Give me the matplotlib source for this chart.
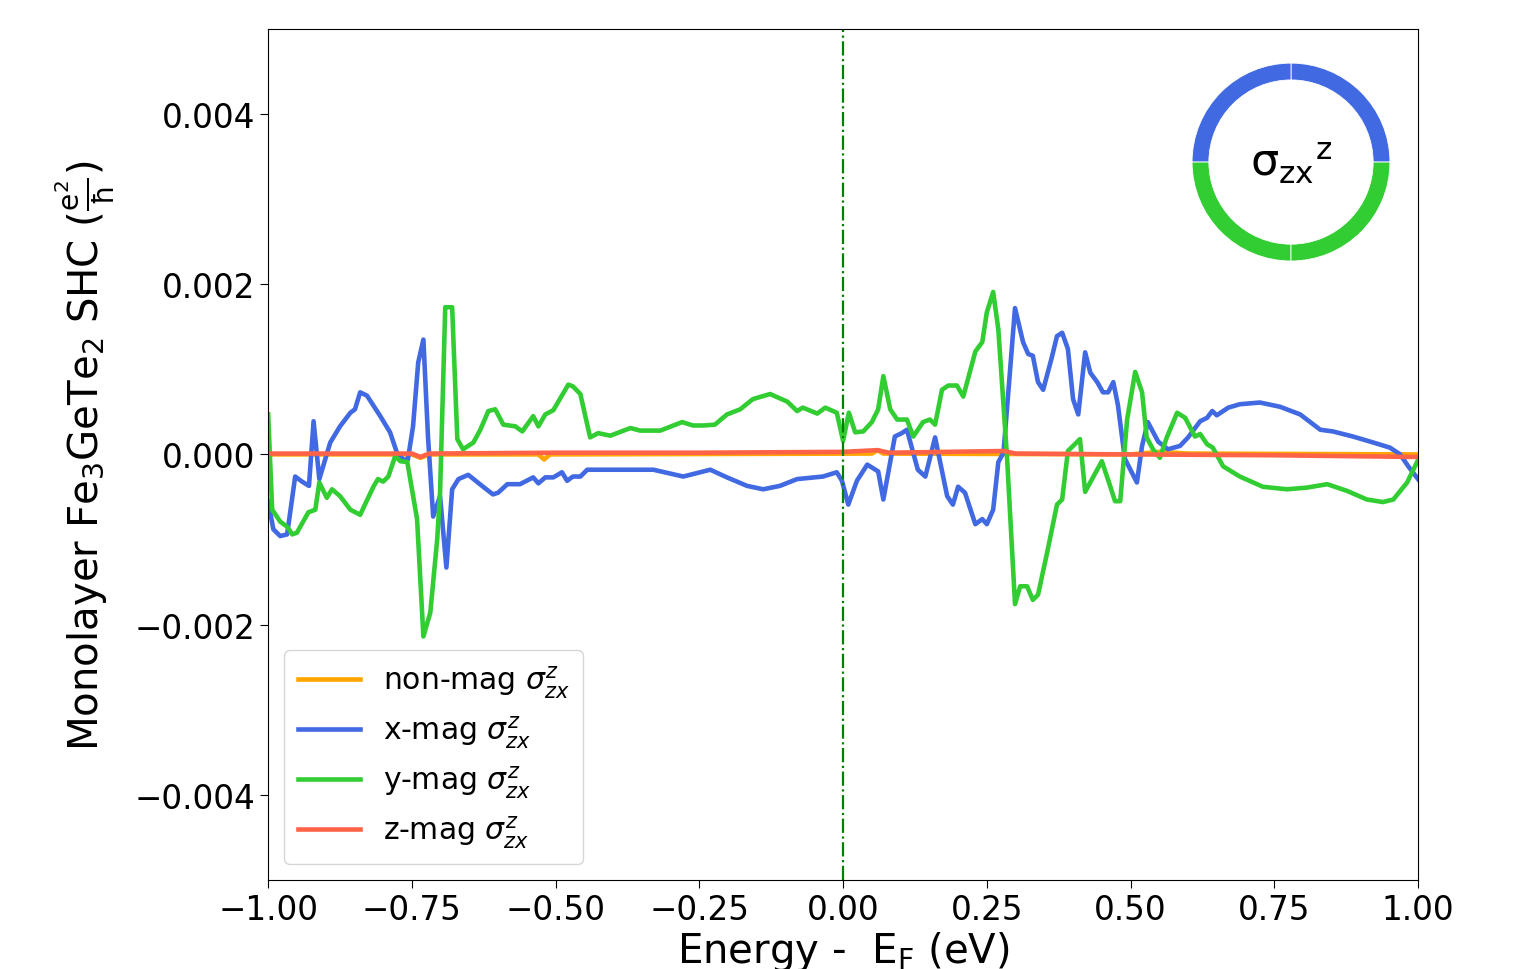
import matplotlib.pyplot as plt
import numpy as np

# ------------------------ #
# DATA  (energy in eV, SHC in units of 1e-4 e^2/hbar)
# ------------------------ #

non_mag = np.array([
    (-1.0, 0.0), (-0.75, 0.0), (-0.735, -0.4), (-0.72, 0.0), (-0.53, 0.0),
    (-0.52, -0.6), (-0.51, 0.0), (0.05, 0.1), (0.06, 0.5), (0.07, 0.1),
    (0.5, 0.0), (0.55, 0.3), (0.6, 0.1), (1.0, 0.0),
])

x_mag = np.array([
    (-1.0, -5.5), (-0.991, -8.8), (-0.979, -9.6), (-0.967, -9.4), (-0.953, -2.6),
    (-0.941, -3.2), (-0.929, -3.7), (-0.921, 3.9), (-0.911, -2.9), (-0.892, 1.4),
    (-0.875, 3.3), (-0.857, 4.9), (-0.849, 5.3), (-0.840, 7.3), (-0.828, 6.9),
    (-0.805, 4.5), (-0.788, 2.6), (-0.776, 0.2), (-0.765, -0.6), (-0.757, -0.6),
    (-0.748, 3.3), (-0.739, 10.8), (-0.730, 13.5), (-0.722, 2.1), (-0.713, -7.3),
    (-0.701, -4.9), (-0.690, -13.3), (-0.680, -4.1), (-0.669, -2.9), (-0.652, -2.4),
    (-0.628, -3.7), (-0.609, -4.7), (-0.600, -4.5), (-0.584, -3.5), (-0.562, -3.5),
    (-0.539, -2.7), (-0.530, -3.4), (-0.518, -2.7), (-0.504, -2.7), (-0.489, -2.1),
    (-0.480, -3.1), (-0.470, -2.6), (-0.457, -2.6), (-0.445, -1.8), (-0.411, -1.8),
    (-0.330, -1.8), (-0.278, -2.6), (-0.231, -1.8), (-0.202, -2.7), (-0.167, -3.7),
    (-0.139, -4.1), (-0.110, -3.7), (-0.080, -2.9), (-0.035, -2.6), (-0.011, -2.1),
    (-0.002, -3.1), (0.009, -5.9), (0.024, -3.1), (0.042, -1.2), (0.061, -2.0),
    (0.070, -5.3), (0.090, 2.1), (0.102, 2.5), (0.111, 2.9), (0.130, -1.8),
    (0.143, -2.6), (0.160, 2.0), (0.181, -4.9), (0.191, -5.9), (0.200, -3.8),
    (0.212, -4.5), (0.230, -8.2), (0.242, -7.6), (0.250, -8.2), (0.261, -6.5),
    (0.270, -0.9), (0.279, 0.2), (0.299, 17.2), (0.313, 13.2), (0.322, 11.8),
    (0.330, 11.6), (0.339, 8.5), (0.348, 7.6), (0.363, 11.4), (0.372, 13.9),
    (0.381, 14.3), (0.391, 12.4), (0.400, 6.5), (0.409, 4.7), (0.421, 12.0),
    (0.430, 9.6), (0.442, 8.5), (0.452, 7.3), (0.461, 7.3), (0.470, 8.5),
    (0.478, 5.8), (0.490, -0.5), (0.511, -3.3), (0.520, 1.0), (0.530, 3.8),
    (0.548, 1.5), (0.565, 0.6), (0.586, 1.0), (0.600, 2.0), (0.621, 3.9),
    (0.633, 4.3), (0.642, 5.1), (0.650, 4.6), (0.670, 5.5), (0.690, 5.9),
    (0.725, 6.1), (0.760, 5.6), (0.795, 4.7), (0.830, 2.9), (0.852, 2.7),
    (0.887, 2.1), (0.922, 1.4), (0.951, 0.8), (0.969, 0.0), (0.983, -1.4),
    (1.0, -2.9),
])

y_mag = np.array([
    (-1.0, 4.7), (-0.993, -6.5), (-0.979, -7.9), (-0.967, -8.5), (-0.958, -9.4),
    (-0.950, -9.2), (-0.930, -6.8), (-0.918, -6.5), (-0.911, -3.3), (-0.898, -5.1),
    (-0.889, -4.1), (-0.875, -4.9), (-0.857, -6.5), (-0.840, -7.1), (-0.817, -3.8),
    (-0.809, -2.9), (-0.800, -3.2), (-0.791, -2.6), (-0.779, -0.2), (-0.770, -0.8),
    (-0.758, -0.9), (-0.741, -7.6), (-0.730, -21.4), (-0.718, -18.6), (-0.706, -10.0),
    (-0.701, -4.5), (-0.692, 17.3), (-0.680, 17.3), (-0.671, 1.8), (-0.661, 0.6),
    (-0.643, 1.4), (-0.631, 2.9), (-0.617, 5.1), (-0.605, 5.3), (-0.591, 3.5),
    (-0.570, 3.3), (-0.558, 2.7), (-0.539, 4.5), (-0.530, 3.3), (-0.518, 4.7),
    (-0.504, 5.2), (-0.478, 8.2), (-0.470, 8.0), (-0.457, 7.1), (-0.440, 2.0),
    (-0.426, 2.5), (-0.405, 2.2), (-0.370, 3.1), (-0.353, 2.8), (-0.318, 2.8),
    (-0.280, 3.8), (-0.261, 3.4), (-0.243, 3.4), (-0.223, 3.5), (-0.202, 4.7),
    (-0.179, 5.3), (-0.157, 6.5), (-0.127, 7.1), (-0.097, 6.2), (-0.080, 5.1),
    (-0.070, 5.5), (-0.045, 4.8), (-0.031, 5.5), (-0.011, 4.9), (0.0, 1.6),
    (0.010, 4.9), (0.021, 2.6), (0.035, 2.7), (0.050, 3.8), (0.061, 5.3),
    (0.070, 9.2), (0.082, 5.3), (0.094, 4.1), (0.111, 4.1), (0.122, 2.1),
    (0.139, 3.8), (0.151, 4.1), (0.160, 3.5), (0.172, 7.6), (0.183, 8.1),
    (0.198, 8.1), (0.209, 6.8), (0.230, 12.1), (0.242, 13.2), (0.250, 16.7),
    (0.261, 19.1), (0.270, 14.7), (0.285, -0.2), (0.299, -17.6), (0.308, -15.5),
    (0.320, -15.5), (0.330, -17.1), (0.339, -16.5), (0.355, -11.5), (0.372, -5.9),
    (0.381, -5.3), (0.391, 0.4), (0.412, 1.8), (0.421, -4.4), (0.450, -0.8),
    (0.461, -3.0), (0.473, -5.5), (0.482, -5.5), (0.494, 4.1), (0.508, 9.7),
    (0.520, 7.3), (0.528, 2.0), (0.539, 0.6), (0.551, -0.4), (0.563, 2.0),
    (0.581, 4.9), (0.595, 4.3), (0.612, 2.1), (0.621, 2.4), (0.633, 1.2),
    (0.643, 0.8), (0.661, -1.4), (0.690, -2.6), (0.730, -3.8), (0.772, -4.1),
    (0.807, -3.9), (0.842, -3.5), (0.877, -4.3), (0.911, -5.3), (0.939, -5.6),
    (0.957, -5.3), (0.981, -3.3), (0.999, -0.8),
])

z_mag = np.array([
    (-1.0, 0.1), (-0.75, 0.1), (-0.735, -0.3), (-0.72, 0.1), (-0.5, 0.2),
    (-0.25, 0.2), (0.0, 0.3), (0.06, 0.5), (0.08, 0.2), (0.28, 0.4),
    (0.3, 0.1), (0.5, 0.0), (0.75, -0.1), (1.0, -0.3),
])

series = [
    (non_mag, "orange", r"non-mag $\sigma_{zx}^{z}$"),
    (x_mag, "royalblue", r"x-mag $\sigma_{zx}^{z}$"),
    (y_mag, "limegreen", r"y-mag $\sigma_{zx}^{z}$"),
    (z_mag, "tomato", r"z-mag $\sigma_{zx}^{z}$"),
]

# ------------------------ #
# PLOTTING
# ------------------------ #

fig = plt.figure(figsize=(15.15, 9.7), dpi=100)
ax = fig.add_axes([0.177, 0.092, 0.759, 0.877])

for data, color, label in series:
    ax.plot(data[:, 0], data[:, 1] * 1e-4, color=color, lw=3.3, label=label)

ax.axvline(0.0, color="green", ls="-.", lw=1.6)

ax.set_xlim(-1.0, 1.0)
ax.set_ylim(-0.005, 0.005)
ax.set_xticks([-1.0, -0.75, -0.5, -0.25, 0.0, 0.25, 0.5, 0.75, 1.0])
ax.set_yticks([-0.004, -0.002, 0.0, 0.002, 0.004])
ax.xaxis.set_major_formatter(plt.FuncFormatter(lambda v, p: f"{v:.2f}".replace("-", "\u2212")))
ax.yaxis.set_major_formatter(plt.FuncFormatter(lambda v, p: f"{v:.3f}".replace("-", "\u2212")))
ax.tick_params(labelsize=23.5, length=6)

ax.set_xlabel(r"Energy -  $\mathrm{E_F}$ (eV)", fontsize=29, labelpad=2)
ax.set_ylabel(r"Monolayer Fe$_3$GeTe$_2$ SHC ($\mathrm{\frac{e^2}{\hbar}}$)",
              fontsize=29, labelpad=12)

ax.legend(loc="lower left", fontsize=21.5, handlelength=2.1, handletextpad=0.75,
          borderpad=0.45, labelspacing=0.45, borderaxespad=0.0,
          bbox_to_anchor=(0.014, 0.019))

# ring inset showing the magnetisation direction
ins = fig.add_axes([0.7868, 1 - 262 / 970, 0.1307, 0.204])
ins.pie([1, 1, 1, 1], colors=["royalblue", "royalblue", "limegreen", "limegreen"],
        startangle=0, counterclock=True, radius=1.0,
        wedgeprops=dict(width=0.17, edgecolor="white", linewidth=0.6))
ins.set_xlim(-1.0, 1.0)
ins.set_ylim(-1.0, 1.0)
ins.set_aspect("equal")
ins.text(0.0, 0.0, r"σ$_{\mathrm{zx}}$$^{\mathrm{z}}$", ha="center", va="center",
         fontsize=32)

fig.savefig("out.png", dpi=100)
